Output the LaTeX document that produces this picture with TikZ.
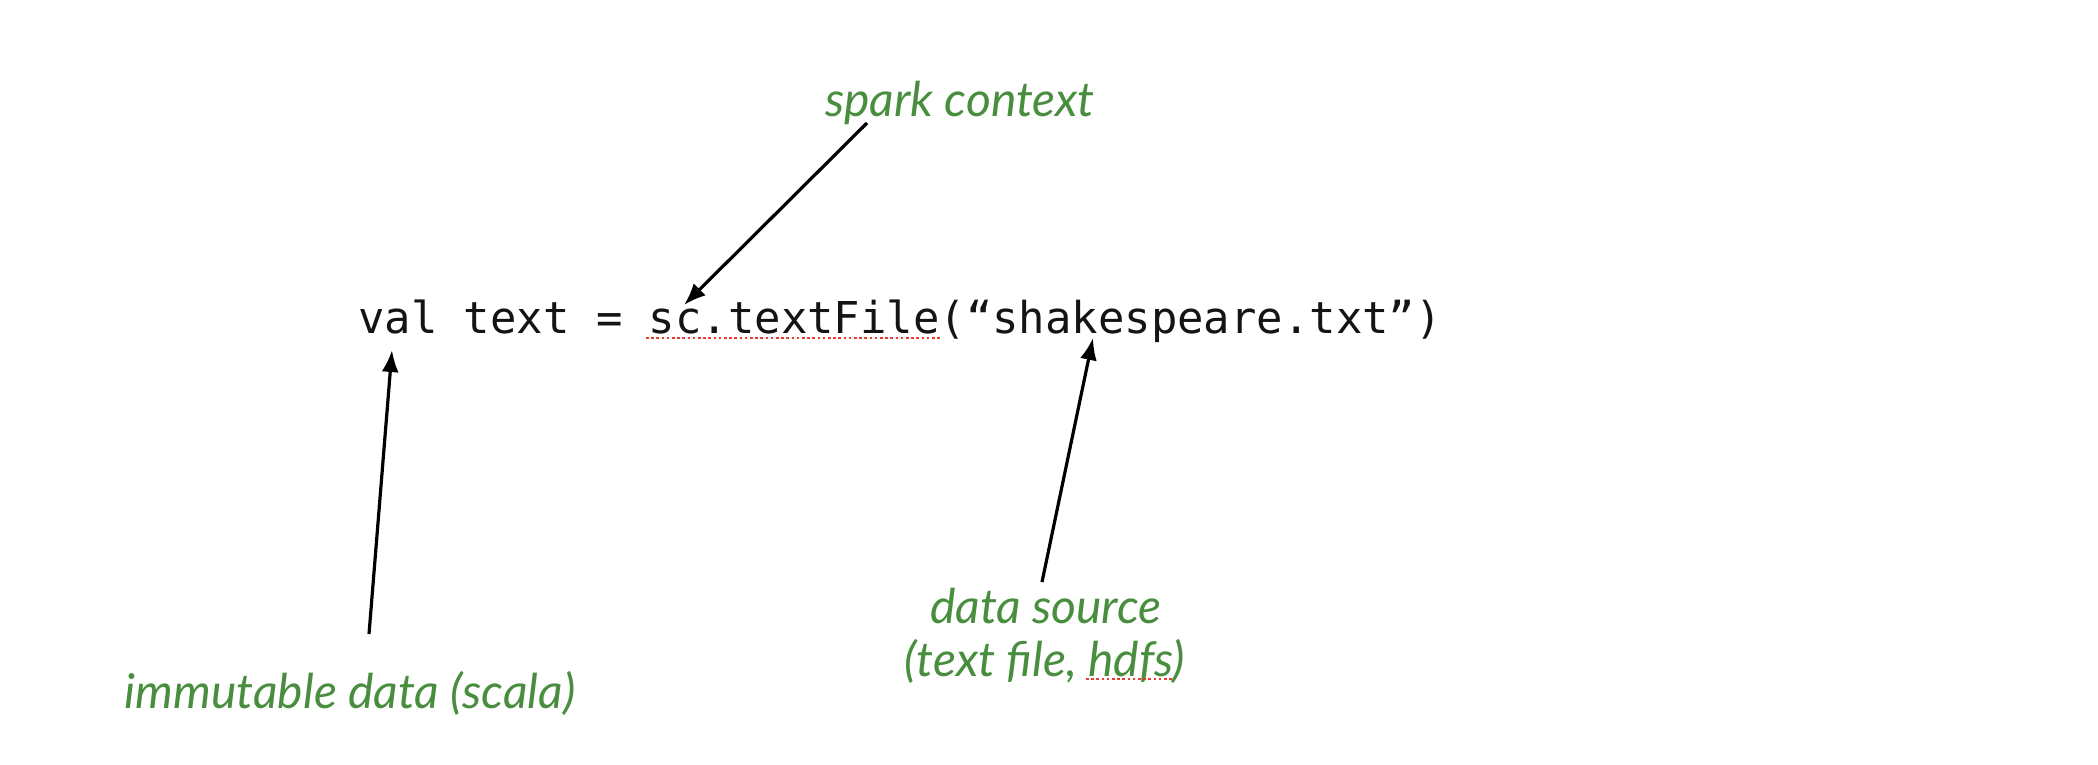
\documentclass[tikz,border=0pt]{standalone}
\usepackage{fontspec}
\setmonofont{DejaVu Sans Mono}
\newfontfamily\handfont{Lato}
\usetikzlibrary{arrows.meta}
\definecolor{handgreen}{RGB}{72,142,62}
\definecolor{codeblack}{RGB}{20,20,20}
\definecolor{spellred}{RGB}{235,60,50}
\tikzset{
  x=1pt,y=-1pt,
  code/.style={inner sep=0pt,text=codeblack,font=\ttfamily\fontsize{43.9}{50}\selectfont},
  hand/.style={inner sep=0pt,text=handgreen,font=\handfont\itshape\fontsize{48}{54}\selectfont},
  pointer/.style={line width=3.2pt,draw=black,-{Latex[length=22pt,width=17pt]}},
  spell/.style={draw=spellred,line width=2.6pt,dash pattern=on 2.6pt off 2.6pt}
}
\begin{document}
\begin{tikzpicture}
\useasboundingbox (0,0) rectangle (2098,764);
\node[code,anchor=base west] (code) at (358,333) {val text = sc.textFile(“shakespeare.txt”)};
\node[hand] (spark) at (960,103) {spark context};
\node[hand] (immut) at (350,693) {immutable data (scala)};
\node[hand] (dsrc) at (1046,606) {data source};
\node[hand] (tfile) at (1045,661) {(text file, hdfs)};
\coordinate (sparkstart) at (867,123);
\coordinate (sctip) at (684,305);
\coordinate (immstart) at (369,634);
\coordinate (valtip) at (392,350);
\coordinate (dsstart) at (1042,582);
\coordinate (shaketip) at (1093,338);
\draw[pointer] (sparkstart) -- (sctip);
\draw[pointer] (immstart) -- (valtip);
\draw[pointer] (dsstart) -- (shaketip);
\coordinate (u1a) at (646,338);
\coordinate (u1b) at (940,338);
\coordinate (u2a) at (1086,679);
\coordinate (u2b) at (1173,679);
\draw[spell] (u1a) -- (u1b);
\draw[spell] (u2a) -- (u2b);
\end{tikzpicture}
\end{document}
